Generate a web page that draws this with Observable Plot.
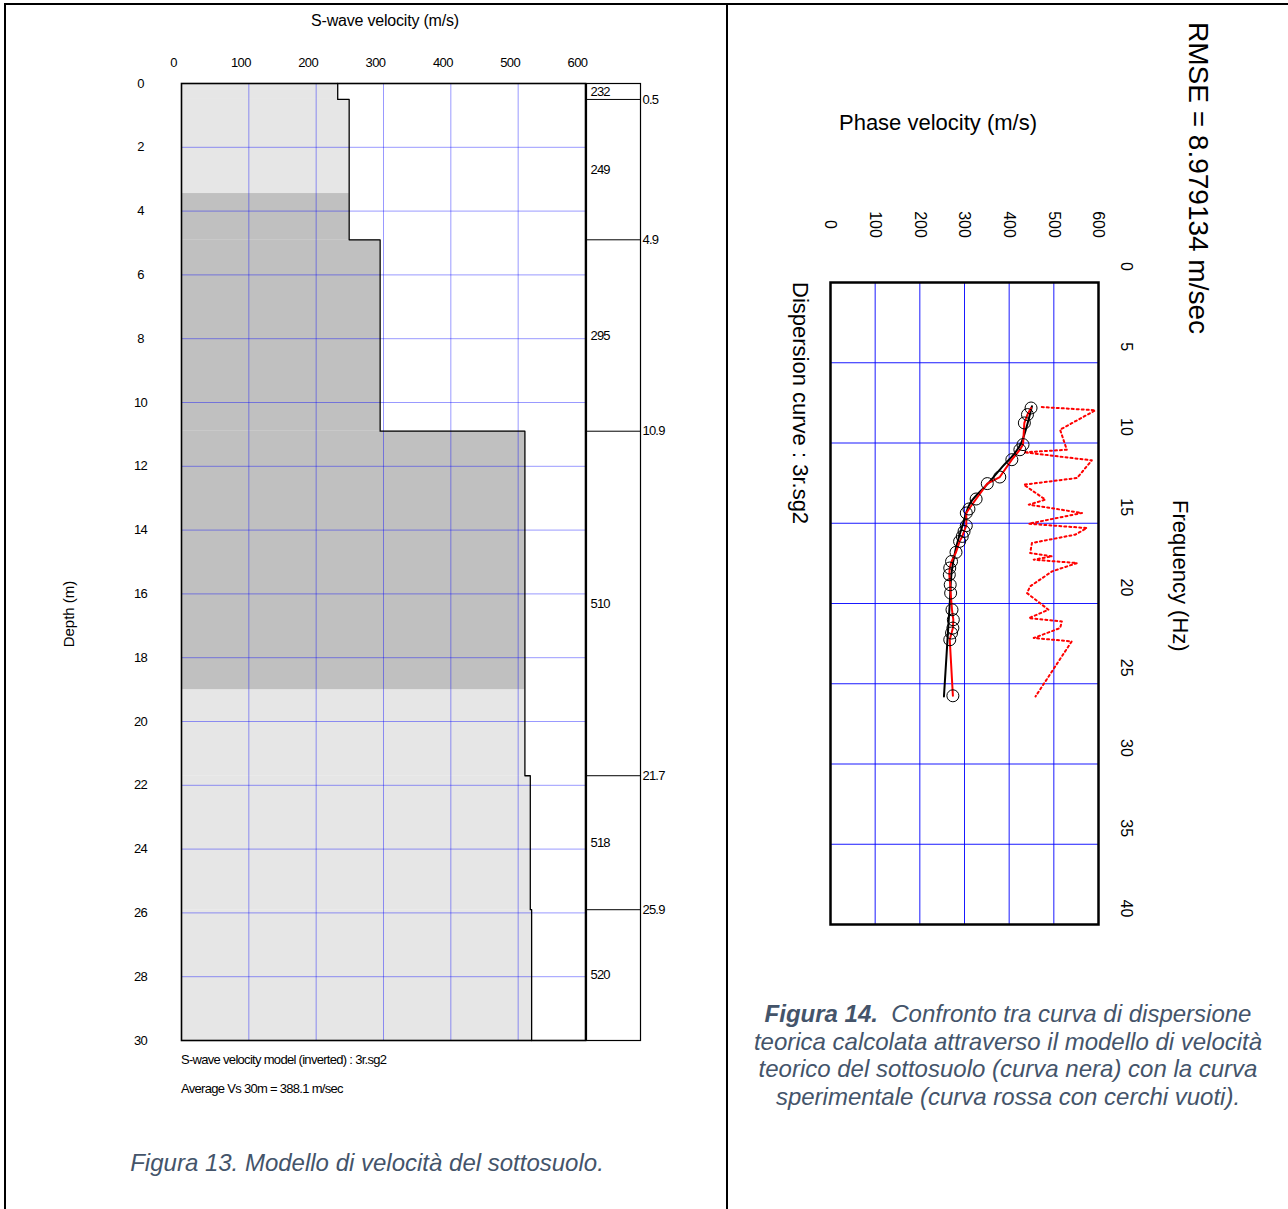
<!DOCTYPE html>
<html><head><meta charset="utf-8">
<script src="https://cdn.jsdelivr.net/npm/d3@7"></script>
<script src="https://cdn.jsdelivr.net/npm/@observablehq/plot@0.6"></script>
<style>
html,body{margin:0;padding:0;background:#fff;}
#page{position:relative;width:1288px;height:1209px;overflow:hidden;font-family:"Liberation Sans",Arial,sans-serif;color:#000;}
.abs{position:absolute;white-space:nowrap;}
.line{position:absolute;background:#000;}
.vert{writing-mode:vertical-rl;line-height:1;}
.cap{color:#44546A;font-style:italic;font-size:24px;text-align:center;}
#page svg{position:absolute;overflow:visible;}
</style></head><body><div id="page"></div>
<script>
// ---------- Data: S-wave velocity model (Figura 13) ----------
const layerTop    = [0, 0.5, 4.9, 10.9, 21.7, 25.9];
const layerBottom = [0.5, 4.9, 10.9, 21.7, 25.9, 30];
const layerVs     = [232, 249, 295, 510, 518, 520];
const bandTop = 3.45, bandBottom = 19.0;           // darker shaded depth band (m)
const velocityTicks = [0, 100, 200, 300, 400, 500, 600];
const depthTicks = [0, 2, 4, 6, 8, 10, 12, 14, 16, 18, 20, 22, 24, 26, 28, 30];

// ---------- Data: dispersion curves (Figura 14) ----------
const freqTicks = [0, 5, 10, 15, 20, 25, 30, 35, 40];
// theoretical curve (black)
const theoFreq = [7.71, 10.0, 10.73, 11.5, 12.49, 13.74, 15.19, 16.65, 18.1, 20.01, 22.67, 25.79];
const theoVel  = [451, 427, 410, 384, 354, 313, 295, 280, 271, 267, 261, 254];
// experimental curve (red with open circles)
const expFreq = [7.82, 8.23, 8.75, 10.1, 10.42, 11.04, 12.12, 12.53, 13.49, 14.11, 14.36, 15.15, 15.51, 15.82, 16.13, 16.81, 17.38, 17.79, 18.21, 18.83, 19.35, 20.39, 21.01, 21.53, 21.84, 22.26, 25.75];
const expVel  = [449, 441, 434, 431, 424, 406, 379, 351, 326, 310, 304, 304, 299, 295, 289, 281, 271, 267, 266, 268, 269, 272, 275, 274, 271, 267, 274];
// dotted red curve
const dotFreq = [7.76, 7.96, 9.17, 10.42, 10.58, 11.08, 12.18, 12.6, 13.53, 13.84, 14.36, 15.03, 15.3, 15.71, 16.23, 16.86, 17.06, 17.27, 17.48, 18.0, 18.93, 19.35, 20.39, 20.91, 21.12, 21.53, 22.15, 22.36, 25.79];
const dotVel  = [473, 593, 514, 529, 433, 585, 552, 433, 481, 444, 563, 444, 574, 548, 451, 447, 496, 455, 552, 496, 447, 440, 488, 444, 518, 514, 455, 540, 459];

const page = document.getElementById("page");
function addDiv(cls, html, css) {
  const d = document.createElement("div");
  d.className = cls; d.innerHTML = html;
  Object.assign(d.style, css);
  page.appendChild(d);
  return d;
}
function place(svg, left, top) { svg.style.left = left + "px"; svg.style.top = top + "px"; page.appendChild(svg); }

// ---------- Left chart ----------
const layers = layerVs.map((v, i) => ({top: layerTop[i], bottom: layerBottom[i], vs: v}));
const band = layers.filter(d => d.bottom > bandTop && d.top < bandBottom)
  .map(d => ({top: Math.max(d.top, bandTop), bottom: Math.min(d.bottom, bandBottom), vs: d.vs}));
const profile = layers.map(d => ({depth: d.top, vs: d.vs}))
  .concat([{depth: layerBottom[layerBottom.length - 1], vs: layerVs[layerVs.length - 1]}]);
const gridBlue = "#0000ff";

const leftPlot = Plot.plot({
  width: 600, height: 1100,
  marginLeft: 181, marginTop: 83, marginRight: 15, marginBottom: 60,
  x: {domain: [0, 600], axis: null},
  y: {domain: [0, 30], reverse: true, axis: null},
  style: {fontFamily: "Liberation Sans, Arial, sans-serif", fontSize: "13px", letterSpacing: "-0.6px", background: "transparent"},
  marks: [
    Plot.rect(layers, {y1: "top", y2: "bottom", x1: 0, x2: "vs", fill: "#e6e6e6"}),
    Plot.rect(band, {y1: "top", y2: "bottom", x1: 0, x2: "vs", fill: "#c0c0c0"}),
    Plot.gridX(velocityTicks.slice(1, -1), {stroke: gridBlue, strokeOpacity: 0.4, strokeWidth: 1}),
    Plot.gridY(depthTicks.slice(1, -1), {stroke: gridBlue, strokeOpacity: 0.4, strokeWidth: 1}),
    Plot.line(profile, {x: "vs", y: "depth", curve: "step-before", stroke: "#000", strokeWidth: 1.3}),
    Plot.frame({stroke: "#000", strokeWidth: 1.6}),
    Plot.axisX(velocityTicks, {anchor: "top", tickSize: 0, tickPadding: 21, lineAnchor: "middle", dx: -8, label: null}),
    Plot.axisY(depthTicks, {anchor: "left", tickSize: 0, tickPadding: 41, textAnchor: "middle", label: null})
  ]
});
place(leftPlot, 0, 0);

// layer table column
const boundaries = layerBottom.slice(0, -1);
const boxPlot = Plot.plot({
  width: 100, height: 1100,
  marginLeft: 5, marginRight: 41, marginTop: 83, marginBottom: 60,
  x: {domain: [0, 1], axis: null},
  y: {domain: [0, 30], reverse: true, axis: null},
  style: {fontFamily: "Liberation Sans, Arial, sans-serif", fontSize: "13px", letterSpacing: "-0.8px", background: "transparent"},
  marks: [
    Plot.frame({stroke: "#000", strokeWidth: 1.2}),
    Plot.ruleY(boundaries, {stroke: "#000", strokeWidth: 1}),
    Plot.text(boundaries, {y: d => d, frameAnchor: "right", textAnchor: "start", dx: 2, text: d => String(d)}),
    Plot.text(layers, {y: d => (d.top + d.bottom) / 2, frameAnchor: "left", textAnchor: "start", dx: 4, text: d => String(d.vs)})
  ]
});
place(boxPlot, 581, 0);

// ---------- Right chart ----------
const theo = theoFreq.map((f, i) => ({f, v: theoVel[i]}));
const expt = expFreq.map((f, i) => ({f, v: expVel[i]}));
const dots = dotFreq.map((f, i) => ({f, v: dotVel[i]}));

const rightPlot = Plot.plot({
  width: 388, height: 774,
  marginLeft: 50, marginTop: 102, marginRight: 70, marginBottom: 30,
  x: {domain: [0, 600], axis: null},
  y: {domain: [0, 40], reverse: true, axis: null},
  style: {fontFamily: "Liberation Sans, Arial, sans-serif", fontSize: "16px", background: "transparent"},
  marks: [
    Plot.gridX(velocityTicks.slice(1, -1), {stroke: gridBlue, strokeOpacity: 0.9, strokeWidth: 1}),
    Plot.gridY(freqTicks.slice(1, -1), {stroke: gridBlue, strokeOpacity: 0.9, strokeWidth: 1}),
    Plot.line(dots, {x: "v", y: "f", stroke: "#ff0000", strokeWidth: 2, strokeDasharray: "2,3"}),
    Plot.line(theo, {x: "v", y: "f", stroke: "#000", strokeWidth: 2, curve: "catmull-rom"}),
    Plot.line(expt, {x: "v", y: "f", stroke: "#ff0000", strokeWidth: 2}),
    Plot.dot(expt, {x: "v", y: "f", r: 6, stroke: "#000", fill: "none", strokeWidth: 1}),
    Plot.frame({stroke: "#000", strokeWidth: 2.5}),
    Plot.axisX(velocityTicks, {anchor: "top", tickSize: 0, tickPadding: 58, tickRotate: 90, textAnchor: "middle", lineAnchor: "middle", label: null}),
    Plot.axisY(freqTicks, {anchor: "right", tickSize: 0, tickPadding: 28, tickRotate: 90, textAnchor: "middle", lineAnchor: "middle", dy: -16, label: null})
  ]
});
place(rightPlot, 780, 180);

// ---------- Texts ----------
addDiv("abs", "S-wave velocity (m/s)", {left: "385px", top: "21px", transform: "translate(-50%,-50%)", fontSize: "16px", letterSpacing: "-0.2px"});
addDiv("abs", "Depth (m)", {left: "68px", top: "614px", transform: "translate(-50%,-50%) rotate(-90deg)", fontSize: "15px"});
addDiv("abs", "S-wave velocity model (inverted) : 3r.sg2", {left: "181px", top: "1059px", transform: "translateY(-50%)", fontSize: "13px", letterSpacing: "-0.7px"});
addDiv("abs", "Average Vs 30m = 388.1 m/sec", {left: "181px", top: "1088px", transform: "translateY(-50%)", fontSize: "13px", letterSpacing: "-0.7px"});
addDiv("abs cap", "Figura 13. Modello di velocità del sottosuolo.", {left: "367px", top: "1163px", transform: "translate(-50%,-50%)"});

addDiv("abs", "Phase velocity (m/s)", {left: "938px", top: "123px", transform: "translate(-50%,-50%)", fontSize: "22px"});
addDiv("abs vert", "Dispersion curve : 3r.sg2", {left: "789px", top: "282px", fontSize: "22px"});
addDiv("abs vert", "Frequency (Hz)", {left: "1169px", top: "500px", fontSize: "22px"});
addDiv("abs vert", "RMSE = 8.979134 m/sec", {left: "1184px", top: "22px", fontSize: "28px"});
addDiv("abs cap", "<b>Figura 14.</b>&nbsp; Confronto tra curva di dispersione<br>teorica calcolata attraverso il modello di velocità<br>teorico del sottosuolo (curva nera) con la curva<br>sperimentale (curva rossa con cerchi vuoti).",
  {left: "1008px", top: "1000px", transform: "translateX(-50%)", lineHeight: "27.7px"});

// ---------- Panel borders ----------
addDiv("line", "", {left: "4px", top: "3px", width: "1284px", height: "2px"});
addDiv("line", "", {left: "4px", top: "3px", width: "2px", height: "1206px"});
addDiv("line", "", {left: "726px", top: "3px", width: "2px", height: "1206px"});
</script>
</body></html>
